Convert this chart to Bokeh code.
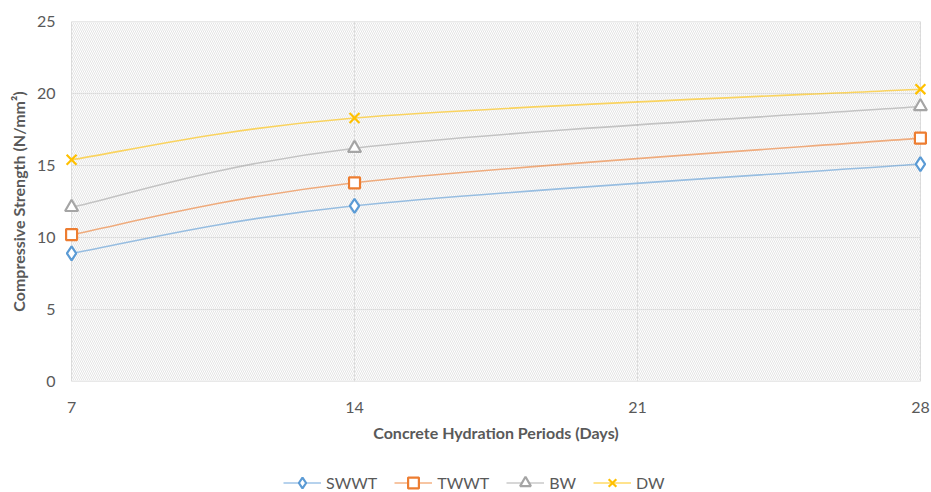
from bokeh.plotting import figure
from bokeh.layouts import column
from bokeh.models import BoxAnnotation, Legend, LegendItem, FixedTicker, Range1d, ColumnDataSource
from bokeh.embed import file_html
from bokeh.resources import INLINE

days = [7, 14, 28]
series_names = ["SWWT", "TWWT", "BW", "DW"]
swwt = [8.9, 12.2, 15.1]
twwt = [10.2, 13.8, 16.9]
bw = [12.1, 16.2, 19.1]
dw = [15.4, 18.3, 20.3]
x_ticks = [7, 14, 21, 28]
y_ticks = [0, 5, 10, 15, 20, 25]

colors = ["#5B9BD5", "#ED7D31", "#A5A5A5", "#FFC000"]
markers = ["diamond", "square", "triangle", "x"]
sizes = [14, 11, 13, 14]
FONT = "Lato"
TXT = "#595959"
GRID = "#d9d9d9"

# small padding so the end markers are not clipped by the frame
pad = 0.2
p = figure(frame_width=865, frame_height=360, output_backend="svg", toolbar_location=None,
           x_range=Range1d(x_ticks[0] - pad, x_ticks[-1] + pad),
           y_range=Range1d(y_ticks[0], y_ticks[-1]),
           min_border_left=63, min_border_right=3, min_border_top=21, min_border_bottom=70)
p.background_fill_color = "white"
p.border_fill_color = "white"
p.outline_line_color = None

hatch = BoxAnnotation(left=x_ticks[0], right=x_ticks[-1], bottom=y_ticks[0], top=y_ticks[-1],
                      fill_color=None, line_color=GRID, line_width=1, hatch_pattern="\\",
                      hatch_color="#e4e4e4", hatch_scale=4, hatch_weight=1, level="underlay")
p.add_layout(hatch)

p.xaxis.ticker = FixedTicker(ticks=x_ticks)
p.yaxis.ticker = FixedTicker(ticks=y_ticks)
for ax in (p.xaxis[0], p.yaxis[0]):
    ax.axis_line_color = None
    ax.major_tick_line_color = None
    ax.minor_tick_line_color = None
    ax.major_label_text_font = FONT
    ax.major_label_text_font_size = "16px"
    ax.major_label_text_color = TXT
    ax.axis_label_text_font = FONT
    ax.axis_label_text_font_size = "16px"
    ax.axis_label_text_font_style = "bold"
    ax.axis_label_text_color = TXT
p.xaxis.axis_label = "Concrete Hydration Periods (Days)"
p.yaxis.axis_label = "Compressive Strength (N/mm\u00b2)"
p.xaxis.major_label_standoff = 14
p.yaxis.major_label_standoff = 2
p.xaxis.axis_label_standoff = 7
p.yaxis.axis_label_standoff = 6

p.xgrid.grid_line_color = GRID
p.ygrid.grid_line_color = None
p.segment(x0=[x_ticks[0]] * len(y_ticks), x1=[x_ticks[-1]] * len(y_ticks),
          y0=y_ticks, y1=y_ticks, line_color=GRID, line_width=1, level="underlay")


def bezier_segments(xs, ys):
    n = len(xs)
    out = dict(x0=[], y0=[], x1=[], y1=[], cx0=[], cy0=[], cx1=[], cy1=[])
    for i in range(n - 1):
        i0 = max(i - 1, 0)
        i3 = min(i + 2, n - 1)
        out["x0"].append(xs[i]); out["y0"].append(ys[i])
        out["x1"].append(xs[i + 1]); out["y1"].append(ys[i + 1])
        out["cx0"].append(xs[i] + (xs[i + 1] - xs[i0]) / 6)
        out["cy0"].append(ys[i] + (ys[i + 1] - ys[i0]) / 6)
        out["cx1"].append(xs[i + 1] - (xs[i3] - xs[i]) / 6)
        out["cy1"].append(ys[i + 1] - (ys[i3] - ys[i]) / 6)
    return out


series = [swwt, twwt, bw, dw]
for name, vals, col, mk, sz in zip(series_names, series, colors, markers, sizes):
    seg = ColumnDataSource(bezier_segments(days, vals))
    p.bezier(x0="x0", y0="y0", x1="x1", y1="y1", cx0="cx0", cy0="cy0", cx1="cx1", cy1="cy1",
             source=seg, line_color=col, line_width=1.6, line_alpha=0.6)
    p.scatter(days, vals, marker=mk, size=sz, line_color=col, line_width=2.2, fill_color="white")

# legend strip below the chart (its glyphs mirror the series styles; data lie outside its view)
lg = figure(width=931, height=41, output_backend="svg", toolbar_location=None,
            x_range=Range1d(0, 1), y_range=Range1d(0, 1), min_border=0,
            x_axis_location=None, y_axis_location=None)
lg.grid.grid_line_color = None
lg.outline_line_color = None
lg.background_fill_color = "white"
lg.border_fill_color = "white"
items = []
for name, vals, col, mk in zip(series_names, series, colors, markers):
    r1 = lg.line(days, vals, line_color=col, line_width=1.6, line_alpha=0.6)
    r2 = lg.scatter(days, vals, marker=mk, line_color=col, line_width=2.2, fill_color="white")
    items.append(LegendItem(label=name, renderers=[r1, r2]))
legend = Legend(items=items, orientation="horizontal", location=(220, -4),
                label_text_font=FONT, label_text_font_size="16px", label_text_color=TXT,
                glyph_width=38, glyph_height=27, spacing=17, label_standoff=5,
                border_line_color=None, background_fill_alpha=0, margin=0, padding=0)
lg.add_layout(legend)

open("out.html", "w").write(file_html(column(p, lg, spacing=0), INLINE))
